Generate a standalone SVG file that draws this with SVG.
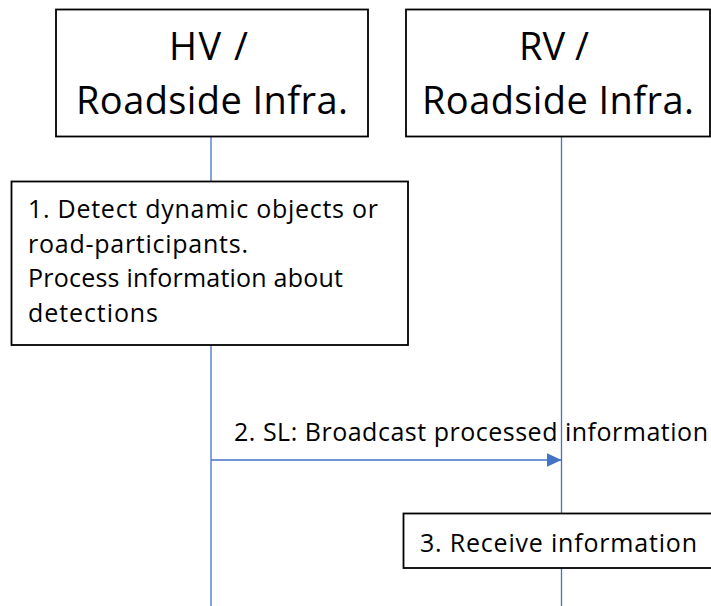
<svg xmlns="http://www.w3.org/2000/svg" width="711" height="606" viewBox="0 0 711 606">
  <style>
    .box { fill: #ffffff; stroke: #000000; stroke-width: 1.8; }
    .life { stroke: #4472C4; stroke-width: 1.3; fill: none; }
    .msg { stroke: #4472C4; stroke-width: 1.3; fill: none; }
    .head { font-family: "Open Sans", "Noto Sans", "Liberation Sans", sans-serif; font-size: 38px; fill: #000000; text-anchor: middle; }
    .body { font-family: "Open Sans", "Noto Sans", "Liberation Sans", sans-serif; font-size: 25px; fill: #000000; }
  </style>
  <defs>
    <marker id="arrow" markerUnits="userSpaceOnUse" markerWidth="15" markerHeight="14" refX="15" refY="7" orient="auto">
      <path d="M0,0 L15,7 L0,14 Z" fill="#4472C4"/>
    </marker>
  </defs>
  <rect x="0" y="0" width="711" height="606" fill="#ffffff"/>

  <!-- lifelines and message arrow -->
  <g id="connectors">
    <line class="life" x1="211" y1="136" x2="211" y2="606"/>
    <line class="life" x1="561.5" y1="136" x2="561.5" y2="606"/>
    <line class="msg" x1="211" y1="460" x2="561.5" y2="460" marker-end="url(#arrow)"/>
    <text class="body" x="234" y="441" textLength="474" lengthAdjust="spacing">2. SL: Broadcast processed information</text>
  </g>

  <g id="hv">
    <rect class="box" x="56" y="9.5" width="312" height="127"/>
    <text class="head" x="208.5" y="60" textLength="79" lengthAdjust="spacing">HV /</text>
    <text class="head" x="212" y="114" textLength="272" lengthAdjust="spacing">Roadside Infra.</text>
  </g>

  <g id="rv">
    <rect class="box" x="406" y="9.5" width="304" height="127"/>
    <text class="head" x="554" y="60">RV /</text>
    <text class="head" x="558" y="114" textLength="272" lengthAdjust="spacing">Roadside Infra.</text>
  </g>

  <g id="step1">
    <rect class="box" x="11.5" y="181.5" width="396.5" height="163.5"/>
    <text class="body" x="28" y="218" textLength="350" lengthAdjust="spacing">1. Detect dynamic objects or</text>
    <text class="body" x="28" y="253" textLength="220" lengthAdjust="spacing">road-participants.</text>
    <text class="body" x="28" y="287" textLength="315" lengthAdjust="spacing">Process information about</text>
    <text class="body" x="28" y="322" textLength="130" lengthAdjust="spacing">detections</text>
  </g>

  <g id="step3">
    <rect class="box" x="403.5" y="513.5" width="330" height="54.5"/>
    <text class="body" x="420" y="552" textLength="277" lengthAdjust="spacing">3. Receive information</text>
  </g>
</svg>
